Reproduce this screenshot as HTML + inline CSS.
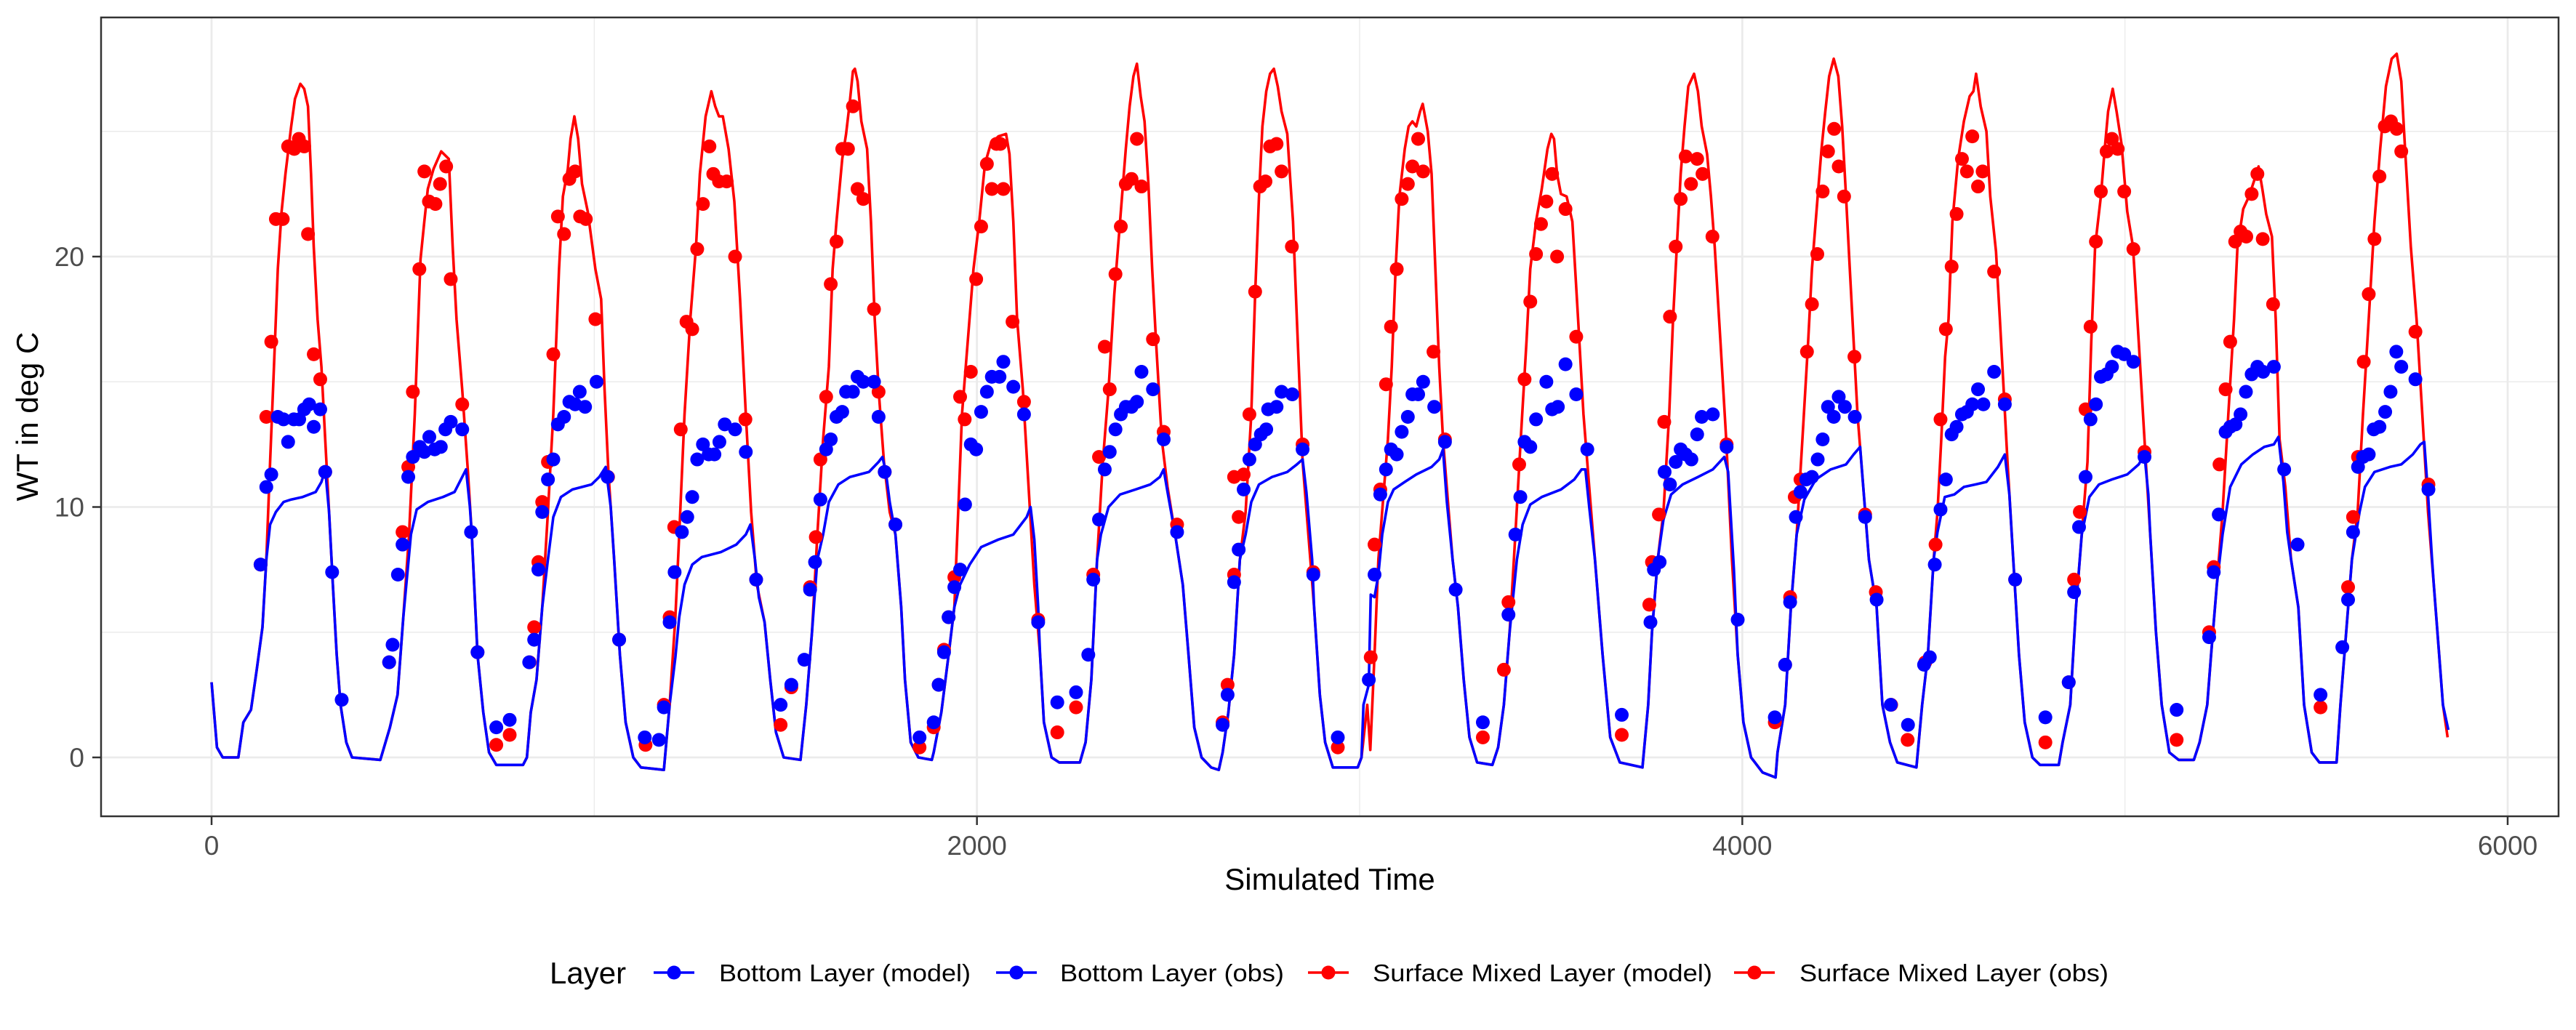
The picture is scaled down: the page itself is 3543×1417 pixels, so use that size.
<!DOCTYPE html>
<html><head><meta charset="utf-8"><title>WT chart</title>
<style>html,body{margin:0;padding:0;background:#fff;}svg{display:block;font-family:"Liberation Sans",Arial,sans-serif;}</style>
</head><body>
<svg id="chart" width="3543" height="1417" viewBox="0 0 3543 1417" xmlns="http://www.w3.org/2000/svg">
<rect x="0" y="0" width="3543" height="1417" fill="#fff"/>
<g id="grid"></g>
<g id="series"></g>
<rect x="139" y="24" width="3380" height="1099" fill="none" stroke="#333" stroke-width="2.5"/>
<g id="axes"></g>
<text x="1829" y="1224" font-size="42" text-anchor="middle" fill="#000">Simulated Time</text>
<text transform="translate(52,573) rotate(-90)" font-size="42" text-anchor="middle" fill="#000">WT in deg C</text>
<g id="legend">
<text x="756" y="1353" font-size="42" fill="#000">Layer</text>
</g>
</svg>
<script>
const redModel = [[0,3.0],[14,0.4],[29,0],[70,0],[83,1.4],[103,1.9],[118,3.5],[133,5.2],[143,7.9],[153,11.8],[163,15.6],[173,19.5],[183,21.8],[193,23.3],[208,25.2],[218,26.3],[232,26.9],[242,26.7],[252,26.0],[260,23.3],[267,20.4],[277,17.5],[287,15.6],[297,12.7],[307,9.8],[317,6.9],[327,4.1],[337,2.1],[352,0.6],[367,0],[441,-0.1],
[466,1.2],[486,2.5],[501,5.6],[516,8.9],[531,13.7],[546,19.9],[556,21.4],[565,22.7],[580,23.5],[600,24.2],[620,23.9],[630,20.4],[640,17.5],[655,14.7],[670,11.4],[680,8.9],[695,4.1],[710,1.8],[725,0.2],[744,-0.3],[814,-0.3],
[824,0],[834,1.8],[849,3.1],[864,6.0],[879,9.8],[893,13.7],[908,19.5],[918,22.4],[931,23.5],[938,24.7],[948,25.6],[958,24.7],[968,22.9],[983,21.8],[1003,19.5],[1018,18.3],[1027,14.7],[1037,11.4],[1052,7.9],[1067,4.1],[1082,1.4],[1102,0],[1122,-0.4],[1182,-0.5],
[1197,2.1],[1212,5.6],[1222,8.9],[1236,13.7],[1251,17.5],[1266,20.4],[1276,23.3],[1291,25.6],[1306,26.6],[1316,26.0],[1326,25.6],[1336,25.6],[1351,24.3],[1366,22.2],[1381,18.3],[1396,13.7],[1410,9.8],[1425,6.9],[1445,5.4],[1460,3.1],[1475,1.0],[1495,0],[1539,-0.1],
[1554,2.1],[1569,5.0],[1583,8.9],[1598,12.7],[1613,15.6],[1623,19.5],[1633,21.4],[1648,23.9],[1658,24.9],[1668,26.2],[1676,27.4],[1681,27.5],[1688,27.0],[1698,25.4],[1713,24.3],[1723,21.4],[1733,17.5],[1743,14.7],[1757,11.8],[1772,9.8],[1787,8.9],[1802,6.0],[1812,3.1],[1827,0.6],[1847,0],[1882,-0.1],
[1887,0.2],[1907,1.8],[1926,4.1],[1941,6.0],[1951,9.8],[1961,13.7],[1976,16.6],[1991,19.5],[2006,21.4],[2021,23.7],[2036,24.5],[2056,24.8],[2076,24.9],[2085,24.1],[2095,21.4],[2105,17.5],[2120,14.7],[2135,10.8],[2150,6.9],[2165,4.1],[2175,1.4],[2195,0],[2215,-0.2],[2269,-0.2],
[2284,0.6],[2299,3.1],[2314,7.9],[2329,11.8],[2344,14.7],[2359,18.5],[2374,21.4],[2389,24.3],[2399,26.0],[2409,27.2],[2418,27.7],[2428,26.4],[2438,25.4],[2448,22.9],[2458,19.5],[2468,16.6],[2483,12.7],[2498,10.8],[2518,8.9],[2538,6.9],[2553,4.1],[2568,1.2],[2587,0],[2612,-0.4],[2632,-0.5],
[2642,0.2],[2657,1.8],[2672,4.1],[2687,7.9],[2702,9.8],[2717,13.7],[2727,18.5],[2737,22.4],[2746,25.2],[2756,26.6],[2766,27.3],[2776,27.5],[2786,26.8],[2796,25.8],[2811,24.9],[2826,21.4],[2836,17.5],[2851,11.8],[2866,8.9],[2881,6.0],[2896,2.5],[2910,0.6],[2930,-0.4],[2995,-0.4],
[3005,0],[3020,2.1],[3028,0.3],[3039,4.1],[3049,7.9],[3064,10.8],[3074,12.7],[3084,15.6],[3094,19.5],[3104,22.4],[3118,24.3],[3128,25.2],[3138,25.4],[3148,25.2],[3158,25.8],[3165,26.1],[3178,25.0],[3188,23.3],[3198,19.5],[3208,15.6],[3218,12.7],[3233,9.8],[3243,7.9],[3257,6.0],[3272,3.1],[3287,0.8],[3307,-0.2],[3347,-0.3],
[3362,0.4],[3377,2.1],[3392,5.0],[3407,8.9],[3421,12.7],[3436,16.6],[3446,19.5],[3461,21.4],[3476,22.7],[3491,24.3],[3501,24.9],[3508,24.7],[3516,23.3],[3526,22.5],[3541,22.4],[3556,21.4],[3571,17.5],[3585,13.7],[3600,10.8],[3615,7.9],[3635,4.1],[3655,0.8],[3680,-0.2],[3739,-0.4],
[3754,2.1],[3764,5.0],[3779,7.9],[3794,9.8],[3809,13.7],[3819,17.5],[3829,20.4],[3839,23.3],[3849,25.2],[3859,26.8],[3874,27.3],[3884,26.6],[3894,25.2],[3908,24.1],[3918,22.4],[3928,20.4],[3943,16.6],[3958,12.7],[3973,7.9],[3988,4.1],[4003,1.4],[4023,0],[4053,-0.6],[4087,-0.8],
[4092,0.2],[4112,2.1],[4127,6.0],[4142,8.9],[4157,12.7],[4172,16.6],[4182,19.5],[4197,22.4],[4207,24.3],[4217,25.8],[4227,27.2],[4239,27.9],[4251,27.2],[4261,25.2],[4271,22.4],[4281,19.5],[4291,16.6],[4301,13.7],[4316,10.8],[4331,7.9],[4351,6.0],[4366,2.1],[4386,0.6],[4405,-0.2],[4455,-0.4],
[4470,2.1],[4485,4.1],[4500,7.9],[4510,9.8],[4520,12.7],[4530,16.0],[4539,17.5],[4549,21.4],[4564,23.9],[4579,25.4],[4594,26.4],[4604,26.6],[4611,27.3],[4623,26.0],[4638,25.0],[4648,22.4],[4663,20.2],[4673,17.5],[4683,14.7],[4693,11.8],[4708,7.9],[4723,4.1],[4738,1.4],[4758,0],[4778,-0.3],[4827,-0.3],
[4837,0.6],[4857,2.1],[4872,6.0],[4887,8.9],[4902,11.8],[4912,16.6],[4922,20.4],[4937,22.4],[4947,24.3],[4956,25.8],[4968,26.7],[4978,25.8],[4991,24.5],[5006,21.8],[5021,20.4],[5036,16.6],[5051,12.7],[5066,8.9],[5081,5.0],[5096,2.1],[5116,0.2],[5140,-0.1],[5180,-0.1],
[5195,0.6],[5215,2.1],[5225,4.1],[5240,6.9],[5255,9.8],[5270,13.7],[5285,17.5],[5294,20.4],[5309,21.9],[5324,22.4],[5339,23.1],[5349,23.6],[5359,22.7],[5369,21.7],[5384,20.8],[5394,17.5],[5404,12.7],[5419,10.8],[5434,7.9],[5453,6.0],[5468,2.1],[5488,0.2],[5508,-0.2],[5553,-0.2],
[5563,2.1],[5578,5.0],[5593,7.9],[5608,9.8],[5622,13.7],[5637,17.5],[5652,21.4],[5667,24.3],[5682,26.8],[5697,27.9],[5710,28.1],[5722,27.0],[5732,24.3],[5747,20.4],[5762,17.5],[5777,13.7],[5792,9.8],[5807,6.9],[5821,4.1],[5831,2.1],[5843,0.8]];

const blueModel = [[0,3.0],[14,0.4],[29,0],[70,0],[83,1.4],[103,1.9],[118,3.5],[133,5.2],[143,7.9],[153,9.3],[168,9.8],[188,10.2],[208,10.3],[238,10.4],[272,10.6],[287,11.0],[297,11.5],[307,9.8],[317,6.9],[327,4.1],[337,2.1],[352,0.6],[367,0],[441,-0.1],
[466,1.2],[486,2.5],[501,5.6],[521,8.9],[536,9.9],[565,10.2],[605,10.4],[635,10.6],[655,11.2],[665,11.5],[675,10.0],[680,8.9],[695,4.1],[710,1.8],[725,0.2],[744,-0.3],[814,-0.3],
[824,0],[834,1.8],[849,3.1],[864,6.0],[879,7.9],[893,9.6],[913,10.4],[943,10.7],[993,10.9],[1013,11.2],[1030,11.6],[1043,10.0],[1052,7.9],[1067,4.1],[1082,1.4],[1102,0],[1122,-0.4],[1182,-0.5],
[1197,2.1],[1212,4.0],[1222,5.6],[1236,6.9],[1256,7.7],[1281,8.0],[1331,8.2],[1371,8.5],[1396,8.9],[1408,9.3],[1420,7.9],[1430,6.4],[1445,5.4],[1460,3.1],[1475,1.0],[1495,0],[1539,-0.1],
[1554,2.1],[1569,5.0],[1583,7.9],[1598,8.9],[1613,10.2],[1638,10.9],[1668,11.2],[1718,11.4],[1743,11.8],[1753,12.0],[1762,11.4],[1772,10.2],[1787,8.9],[1802,6.0],[1812,3.1],[1827,0.6],[1847,0],[1882,-0.1],
[1887,0.2],[1907,1.8],[1926,4.1],[1941,6.0],[1956,6.9],[1981,7.7],[2011,8.4],[2056,8.7],[2095,8.9],[2115,9.3],[2130,9.6],[2140,10.0],[2150,8.7],[2160,6.0],[2165,4.1],[2175,1.4],[2195,0],[2215,-0.2],[2269,-0.2],
[2284,0.6],[2299,3.1],[2314,7.9],[2324,8.9],[2344,10.0],[2374,10.5],[2414,10.7],[2453,10.9],[2478,11.2],[2488,11.5],[2498,10.6],[2518,8.9],[2538,6.9],[2553,4.1],[2568,1.2],[2587,0],[2612,-0.4],[2632,-0.5],
[2642,0.2],[2657,1.8],[2672,4.1],[2687,7.9],[2702,8.9],[2717,10.2],[2737,10.9],[2771,11.2],[2811,11.4],[2836,11.7],[2851,11.9],[2861,10.6],[2876,7.9],[2881,6.0],[2896,2.5],[2910,0.6],[2930,-0.4],[2995,-0.4],
[3005,0],[3010,2.1],[3024,2.9],[3029,6.5],[3039,6.4],[3049,7.3],[3059,8.9],[3074,10.2],[3089,10.7],[3118,11.0],[3148,11.3],[3188,11.6],[3208,11.9],[3218,12.3],[3228,10.2],[3243,7.9],[3257,6.0],[3272,3.1],[3287,0.8],[3307,-0.2],[3347,-0.3],
[3362,0.4],[3377,2.1],[3392,5.0],[3411,7.9],[3426,9.3],[3446,10.1],[3476,10.4],[3526,10.7],[3561,11.1],[3580,11.5],[3590,11.5],[3600,10.0],[3615,7.9],[3635,4.1],[3655,0.8],[3680,-0.2],[3739,-0.4],
[3754,2.1],[3764,5.0],[3779,7.9],[3794,9.5],[3814,10.5],[3844,10.9],[3884,11.2],[3923,11.5],[3953,12.0],[3963,11.4],[3978,7.5],[3988,4.1],[4003,1.4],[4023,0],[4053,-0.6],[4087,-0.8],
[4092,0.2],[4112,2.1],[4127,6.0],[4142,8.9],[4162,10.3],[4192,11.1],[4231,11.5],[4271,11.7],[4291,12.1],[4308,12.4],[4316,10.8],[4331,7.9],[4351,6.0],[4366,2.1],[4386,0.6],[4405,-0.2],[4455,-0.4],
[4470,2.1],[4485,4.1],[4500,7.9],[4510,9.0],[4529,10.4],[4554,10.5],[4579,10.8],[4609,10.9],[4638,11.0],[4668,11.6],[4686,12.1],[4698,10.5],[4708,7.9],[4723,4.1],[4738,1.4],[4758,0],[4778,-0.3],[4827,-0.3],
[4837,0.6],[4857,2.1],[4872,6.0],[4887,8.9],[4907,10.4],[4932,10.9],[4966,11.1],[5006,11.3],[5036,11.7],[5051,12.1],[5061,10.5],[5066,8.9],[5081,5.0],[5096,2.1],[5116,0.2],[5140,-0.1],[5180,-0.1],
[5195,0.6],[5215,2.1],[5225,4.1],[5240,6.9],[5255,8.9],[5275,10.8],[5304,11.7],[5334,12.1],[5364,12.4],[5389,12.5],[5401,12.8],[5414,11.0],[5424,9.0],[5434,7.9],[5453,6.0],[5468,2.1],[5488,0.2],[5508,-0.2],[5553,-0.2],
[5563,2.1],[5578,5.0],[5593,7.9],[5613,9.8],[5627,10.8],[5652,11.4],[5692,11.6],[5722,11.7],[5752,12.1],[5772,12.5],[5782,12.6],[5792,10.5],[5802,8.0],[5807,6.9],[5821,4.1],[5831,2.1],[5845,1.1]];

const redObs = [[128,7.7],[143,13.6],[156,16.6],[168,21.5],[186,21.5],[200,24.4],[216,24.3],[228,24.7],[242,24.4],[252,20.9],[267,16.1],[284,15.1],[297,11.4],
[464,3.8],[499,9.0],[514,11.6],[526,14.6],[543,19.5],[556,23.4],[568,22.2],[585,22.1],[597,22.9],[613,23.6],[625,19.1],[655,14.1],[695,4.2],[744,0.5],[779,0.9],
[831,3.8],[843,5.2],[854,7.8],[864,10.2],[879,11.8],[893,16.1],[905,21.6],[921,20.9],[935,23.1],[950,23.4],[963,21.6],[978,21.5],[1003,17.5],[1036,11.2],[1065,4.7],[1134,0.5],
[1182,2.1],[1197,5.6],[1209,9.2],[1226,13.1],[1241,17.4],[1256,17.1],[1269,20.3],[1284,22.1],[1301,24.4],[1311,23.3],[1326,23.0],[1346,23.0],[1368,20.0],[1395,13.5],[1423,7.1],[1487,1.3],[1515,2.8],
[1564,6.8],[1579,8.8],[1591,11.9],[1606,14.4],[1618,18.9],[1633,20.6],[1648,24.3],[1663,24.3],[1676,26.0],[1688,22.7],[1703,22.3],[1731,17.9],[1743,14.6],[1759,11.4],[1787,9.3],[1850,0.4],
[1887,1.2],[1900,2.9],[1914,4.3],[1926,5.6],[1941,7.2],[1956,14.4],[1968,13.5],[1984,15.4],[1998,19.1],[2011,21.2],[2026,23.7],[2039,22.7],[2051,24.5],[2061,24.5],[2069,22.7],[2093,17.4],[2123,14.2],[2160,5.5],[2210,1.0],[2259,2.0],
[2304,7.3],[2319,12.0],[2334,16.4],[2347,14.7],[2362,19.3],[2376,21.2],[2389,22.9],[2404,23.1],[2418,24.7],[2430,22.8],[2460,16.7],[2488,13.0],[2523,9.3],
[2642,1.4],[2655,2.9],[2672,7.3],[2672,11.2],[2684,9.6],[2697,11.3],[2712,13.7],[2727,18.6],[2740,22.8],[2754,23.0],[2766,24.4],[2783,24.5],[2796,23.4],[2823,20.4],[2851,12.5],[2879,7.4],[2943,0.4],
[3029,4.0],[3039,8.5],[3054,10.7],[3069,14.9],[3082,17.2],[3097,19.5],[3110,22.3],[3126,22.9],[3138,23.6],[3153,24.7],[3166,23.4],[3193,16.2],[3223,12.7],[3322,0.8],
[3377,3.5],[3389,6.2],[3417,11.7],[3431,15.1],[3446,18.2],[3461,20.1],[3474,21.3],[3488,22.2],[3503,23.3],[3516,20.0],[3538,21.9],[3566,16.8],[3685,0.9],
[3757,6.1],[3764,7.8],[3782,9.7],[3796,13.4],[3811,17.6],[3826,20.4],[3839,22.3],[3852,24.0],[3866,22.9],[3882,23.9],[3896,23.3],[3922,20.8],[3959,12.5],[4085,1.4],
[4112,3.7],[4125,6.4],[4137,10.4],[4152,11.1],[4169,16.2],[4182,18.1],[4196,20.1],[4210,22.6],[4224,24.2],[4240,25.1],[4252,23.6],[4266,22.4],[4293,16.0],[4321,9.7],[4349,6.6],[4389,2.1],[4432,0.7],
[4478,3.8],[4505,8.5],[4518,13.5],[4532,17.1],[4547,19.6],[4560,21.7],[4574,23.9],[4587,23.4],[4601,24.8],[4616,22.8],[4628,23.4],[4658,19.4],[4686,14.3],[4713,7.1],[4792,0.6],
[4853,3.0],[4867,7.1],[4882,9.8],[4897,13.9],[4910,17.2],[4924,20.6],[4937,22.6],[4952,24.2],[4966,24.7],[4981,24.3],[4998,22.6],[5022,20.3],[5051,12.2],[5135,0.7],
[5220,5.0],[5232,7.6],[5247,11.7],[5263,14.7],[5275,16.6],[5288,20.6],[5302,21.0],[5317,20.8],[5331,22.5],[5346,23.3],[5360,20.7],[5387,18.1],[5511,2.0],
[5583,6.8],[5596,9.6],[5609,12.0],[5624,15.8],[5637,18.5],[5652,20.7],[5665,23.2],[5679,25.2],[5695,25.4],[5710,25.1],[5722,24.2],[5759,17.0],[5793,10.9]];

const blueObs = [[128,7.7],[143,10.8],[156,11.3],[173,13.6],[188,13.5],[200,12.6],[215,13.5],[229,13.5],[242,13.9],[255,14.1],[267,13.2],[284,13.9],[297,11.4],[315,7.4],[340,2.3],
[464,3.8],[473,4.5],[487,7.3],[499,8.5],[514,11.2],[526,12.0],[544,12.4],[556,12.2],[569,12.8],[583,12.3],[599,12.4],[611,13.1],[625,13.4],[655,13.1],[678,9.0],[695,4.2],[744,1.2],[779,1.5],
[830,3.8],[843,4.7],[854,7.5],[864,9.8],[879,11.1],[893,11.9],[905,13.3],[921,13.6],[935,14.2],[950,14.1],[962,14.6],[976,14.0],[1006,15.0],[1035,11.2],[1065,4.7],[1132,0.8],[1169,0.7],
[1182,2.0],[1197,5.4],[1210,7.4],[1229,9.0],[1243,9.6],[1256,10.4],[1269,11.9],[1284,12.5],[1299,12.1],[1314,12.1],[1327,12.6],[1341,13.3],[1368,13.1],[1396,12.2],[1423,7.1],[1487,2.1],[1515,2.9],
[1549,3.9],[1564,6.7],[1577,7.8],[1591,10.3],[1606,12.3],[1618,12.7],[1633,13.6],[1648,13.8],[1658,14.6],[1676,14.6],[1688,15.2],[1703,15.0],[1731,15.0],[1743,13.6],[1759,11.4],[1787,9.3],[1850,0.8],
[1887,1.4],[1900,2.9],[1914,4.2],[1926,5.6],[1941,6.8],[1956,7.5],[1969,10.1],[1984,12.5],[1998,12.3],[2011,13.8],[2026,14.6],[2039,15.2],[2059,15.2],[2069,15.8],[2095,14.8],[2123,13.7],[2160,5.4],[2210,2.2],[2259,2.6],
[2291,4.1],[2304,7.1],[2319,9.5],[2334,11.5],[2347,12.2],[2362,13.1],[2376,13.7],[2389,14.0],[2404,14.0],[2418,14.2],[2430,15.4],[2460,14.7],[2488,12.7],[2523,9.0],
[2642,1.3],[2655,2.5],[2672,7.0],[2684,8.3],[2697,10.7],[2712,11.9],[2727,12.5],[2742,12.9],[2756,13.1],[2761,13.9],[2783,14.0],[2796,14.6],[2824,14.5],[2851,12.3],[2879,7.3],[2943,0.8],
[3024,3.1],[3039,7.3],[3054,10.5],[3069,11.5],[3082,12.3],[3097,12.1],[3110,13.0],[3126,13.6],[3138,14.5],[3153,14.5],[3166,15.0],[3195,14.0],[3223,12.6],[3251,6.7],[3322,1.4],
[3389,5.7],[3407,8.9],[3420,10.4],[3431,12.6],[3446,12.4],[3461,13.5],[3488,15.0],[3503,13.9],[3518,14.0],[3538,15.7],[3566,14.5],[3595,12.3],[3685,1.7],
[3760,5.4],[3769,7.5],[3784,7.8],[3797,11.4],[3811,10.9],[3826,11.8],[3839,12.3],[3852,12.1],[3867,11.9],[3882,12.9],[3894,13.6],[3923,13.7],[3959,12.4],[3988,5.5],[4085,1.6],
[4112,3.7],[4125,6.2],[4140,9.6],[4152,10.6],[4167,11.1],[4182,11.2],[4197,11.9],[4210,12.7],[4224,14.0],[4239,13.6],[4252,14.4],[4268,14.0],[4294,13.6],[4321,9.6],[4351,6.3],[4388,2.1],[4433,1.3],
[4475,3.7],[4490,4.0],[4503,7.7],[4518,9.9],[4532,11.1],[4547,12.9],[4560,13.2],[4574,13.7],[4587,13.8],[4601,14.1],[4616,14.7],[4630,14.1],[4658,15.4],[4686,14.1],[4713,7.1],[4792,1.6],
[4853,3.0],[4867,6.6],[4880,9.2],[4897,11.2],[4910,13.5],[4924,14.1],[4937,15.2],[4952,15.3],[4966,15.6],[4981,16.2],[4998,16.1],[5022,15.8],[5051,12.0],[5135,1.9],
[5220,4.8],[5232,7.4],[5245,9.7],[5263,13.0],[5275,13.2],[5289,13.3],[5302,13.7],[5316,14.6],[5331,15.3],[5346,15.6],[5361,15.4],[5389,15.6],[5416,11.5],[5451,8.5],[5511,2.5],
[5568,4.4],[5583,6.3],[5596,9.0],[5609,11.6],[5622,12.0],[5637,12.1],[5650,13.1],[5665,13.2],[5680,13.8],[5694,14.6],[5709,16.2],[5722,15.6],[5759,15.1],[5793,10.7]];

const xTicks = [0, 2000, 4000, 6000];
const xMinor = [1000, 3000, 5000];
const yTicks = [0, 10, 20];
const yMinor = [5, 15, 25];
const legendLabels = ["Bottom Layer (model)", "Bottom Layer (obs)", "Surface Mixed Layer (model)", "Surface Mixed Layer (obs)"];
const legendColors = ["#0000FF", "#0000FF", "#FF0000", "#FF0000"];

const NS = "http://www.w3.org/2000/svg";
const PL = 139, PR = 3519, PT = 24, PB = 1123;
const DOT_R = 9.5;
function xs(t) { return 291 + (t / 6000) * (3449 - 291); }
function ys(v) { return 1042 - v * 34.45; }
function mk(tag, attrs, parent) {
  const e = document.createElementNS(NS, tag);
  for (const k in attrs) e.setAttribute(k, attrs[k]);
  parent.appendChild(e);
  return e;
}
const grid = document.getElementById("grid");
const axes = document.getElementById("axes");
const series = document.getElementById("series");
const legend = document.getElementById("legend");

xMinor.forEach(t => {
  const l = mk("line", {x1: xs(t), x2: xs(t), y1: PT, y2: PB, stroke: "#EBEBEB", "stroke-width": 1.4}, grid);
  
  
});
yMinor.forEach(v => {
  const l = mk("line", {x1: PL, x2: PR, y1: ys(v), y2: ys(v), stroke: "#EBEBEB", "stroke-width": 1.4}, grid);
  
  
});
xTicks.forEach(t => {
  const l = mk("line", {x1: xs(t), x2: xs(t), y1: PT, y2: PB, stroke: "#EBEBEB", "stroke-width": 2.8}, grid);
  
  
  const tk = mk("line", {x1: xs(t), x2: xs(t), y1: PB, y2: PB + 12, stroke: "#333", "stroke-width": 2.5}, axes);
  
  
  const tx = mk("text", {x: xs(t), y: 1176, "font-size": 37, "text-anchor": "middle", fill: "#4D4D4D"}, axes);
  tx.textContent = String(t);
  
  
});
yTicks.forEach(v => {
  const l = mk("line", {x1: PL, x2: PR, y1: ys(v), y2: ys(v), stroke: "#EBEBEB", "stroke-width": 2.8}, grid);
  
  
  const tk = mk("line", {x1: PL - 12, x2: PL, y1: ys(v), y2: ys(v), stroke: "#333", "stroke-width": 2.5}, axes);
  
  
  const tx = mk("text", {x: 116, y: ys(v) + 13, "font-size": 37, "text-anchor": "end", fill: "#4D4D4D"}, axes);
  tx.textContent = String(v);
  
  
});

function linePath(arr) {
  return arr.map((p, i) => (i ? "L" : "M") + xs(p[0]).toFixed(1) + "," + ys(p[1]).toFixed(1)).join("");
}
const rl = mk("path", {d: linePath(redModel), fill: "none", stroke: "#FF0000", "stroke-width": 3.6, "stroke-linejoin": "round"}, series);


const bl = mk("path", {d: linePath(blueModel), fill: "none", stroke: "#0000FF", "stroke-width": 3.6, "stroke-linejoin": "round"}, series);


redObs.forEach(p => {
  const c = mk("circle", {cx: xs(p[0]), cy: ys(p[1]), r: DOT_R, fill: "#FF0000"}, series);
  
  
});
blueObs.forEach(p => {
  const c = mk("circle", {cx: xs(p[0]), cy: ys(p[1]), r: DOT_R, fill: "#0000FF"}, series);
  
  
});

const keyX = [927, 1398, 1827, 2413];
const textX = [989, 1458, 1888, 2475];
const textW = [346, 308, 467, 425];
legendLabels.forEach((lab, i) => {
  const g = mk("g", {}, legend);
  
  
  const l = mk("line", {x1: keyX[i] - 28, x2: keyX[i] + 28, y1: 1338, y2: 1338, stroke: legendColors[i], "stroke-width": 3.6}, g);
  
  
  const c = mk("circle", {cx: keyX[i], cy: 1338, r: DOT_R, fill: legendColors[i]}, g);
  
  
  const t = mk("text", {x: textX[i], y: 1350, "font-size": 33, fill: "#000", textLength: textW[i], lengthAdjust: "spacingAndGlyphs"}, g);
  t.textContent = lab;
  
  
});
</script>
</body></html>
